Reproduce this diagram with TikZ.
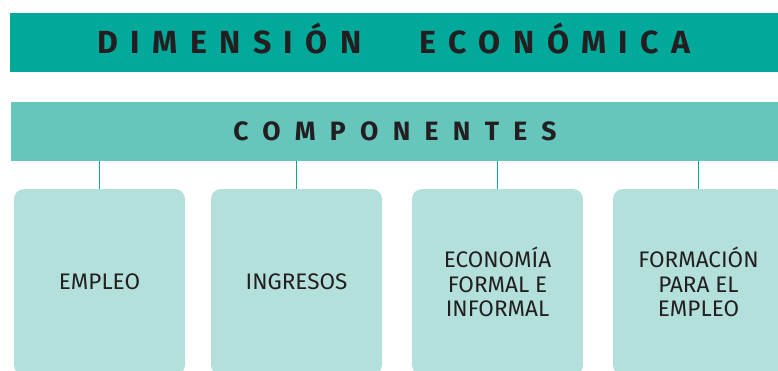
\documentclass[tikz,border=0pt]{standalone}
\usepackage{fontspec}
\setmainfont{Fira Sans}
\newfontfamily\titlefont[LetterSpace=39]{Fira Sans}
\newfontfamily\subtitlefont[LetterSpace=54]{Fira Sans}
\usetikzlibrary{positioning}

\definecolor{tealdark}{HTML}{00A99A}
\definecolor{tealmid}{HTML}{66C6BC}
\definecolor{teallight}{HTML}{B3E0DB}
\definecolor{textdark}{HTML}{231F20}

\tikzset{
  banner/.style={fill=#1, minimum width=768pt, minimum height=59pt,
    inner sep=0pt, text=textdark, text depth=0pt},
  compbox/.style={fill=teallight, rounded corners=10pt, minimum width=171pt,
    minimum height=186pt, inner sep=0pt, text=textdark, align=center,
    font=\fontsize{22.5}{24.5}\selectfont},
  link/.style={draw=tealdark, line width=1.8pt}
}

\begin{document}
\begin{tikzpicture}[x=1pt, y=-1pt]
\useasboundingbox (0,0) rectangle (778,370);

% Titulos
\node[banner=tealdark, text height=22pt, font=\titlefont\bfseries\fontsize{32}{32}\selectfont]
  (dim) at (394,42.5) {DIMENSIÓN\hspace{58pt}ECONÓMICA};
\node[banner=tealmid, text height=18.5pt, font=\subtitlefont\bfseries\fontsize{26.5}{26.5}\selectfont]
  (comp) at (395,131) {COMPONENTES};

% Componentes
\node[compbox] (empleo)    at (99.5,282)  {EMPLEO};
\node[compbox] (ingresos)  at (296.5,282) {INGRESOS};
\node[compbox] (economia)  at (497.5,282) {ECONOMÍA\\FORMAL E\\INFORMAL};
\node[compbox] (formacion) at (698.5,282) {FORMACIÓN\\PARA EL\\EMPLEO};

% Lineas
\draw[link] (comp.south -| empleo.north)    -- (empleo.north);
\draw[link] (comp.south -| ingresos.north)  -- (ingresos.north);
\draw[link] (comp.south -| economia.north)  -- (economia.north);
\draw[link] (comp.south -| formacion.north) -- (formacion.north);

\end{tikzpicture}
\end{document}
